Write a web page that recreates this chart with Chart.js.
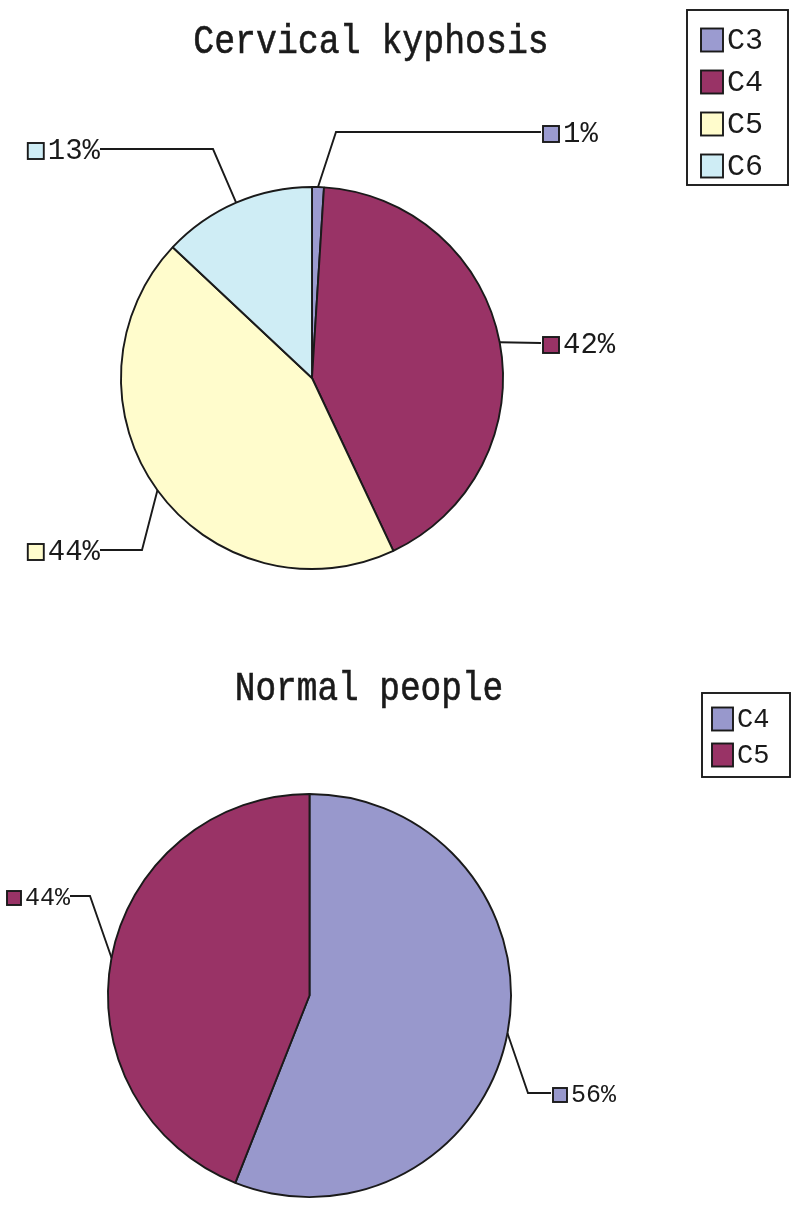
<!DOCTYPE html>
<html>
<head>
<meta charset="utf-8">
<script src="https://cdn.jsdelivr.net/npm/chart.js@4.4.1/dist/chart.umd.min.js"></script>
<style>
  html,body{margin:0;padding:0;background:#fff;}
  #wrap{position:relative;width:800px;height:1206px;}
  canvas{position:absolute;left:0;}
</style>
</head>
<body>
<div id="wrap">
  <canvas id="c1" width="800" height="603" style="top:0"></canvas>
  <canvas id="c2" width="800" height="603" style="top:603px"></canvas>
</div>
<script>
// ---- data ----
const topTitle = 'Cervical kyphosis';
const topCategories = ['C3', 'C4', 'C5', 'C6'];
const topValues = [1, 42, 44, 13];

const bottomTitle = 'Normal people';
const bottomCategories = ['C4', 'C5'];
const bottomValues = [56, 44];

// ---- styles ----
const topColors = ['#9B9BD0', '#993366', '#FFFCCC', '#CFEDF5'];
const bottomColors = ['#9898CC', '#993366'];
const INK = '#1a1a1a';
const FONT = '"Liberation Mono", "DejaVu Sans Mono", monospace';

const decorPlugin = {
  id: 'decor',
  afterDraw(chart, args, o) {
    const ctx = chart.ctx;
    ctx.save();
    // title (tall, narrow glyphs like the original)
    ctx.save();
    ctx.fillStyle = INK;
    ctx.strokeStyle = INK;
    ctx.lineWidth = 0.6;
    ctx.font = o.titleSize + 'px ' + FONT;
    ctx.textAlign = 'center';
    ctx.textBaseline = 'alphabetic';
    ctx.translate(o.titleX, o.titleY);
    ctx.scale(o.titleScaleX, 1);
    ctx.fillText(o.title, 0, 0);
    ctx.strokeText(o.title, 0, 0);
    ctx.restore();

    // leader-line labels
    const ds = chart.data.datasets[0];
    const meta = chart.getDatasetMeta(0);
    ctx.lineWidth = 1.9;
    ctx.strokeStyle = INK;
    ctx.font = o.labelSize + 'px ' + FONT;
    ctx.textBaseline = 'middle';
    meta.data.forEach((arc, i) => {
      const p = arc.getProps(['x', 'y', 'startAngle', 'endAngle', 'outerRadius'], true);
      const mid = (p.startAngle + p.endAngle) / 2;
      const ax = p.x + Math.cos(mid) * p.outerRadius;
      const ay = p.y + Math.sin(mid) * p.outerRadius;
      const L = o.labels[i];
      ctx.beginPath();
      ctx.moveTo(ax, ay);
      if (L.elbow) ctx.lineTo(L.elbow[0], L.elbow[1]);
      ctx.lineTo(L.end[0], L.end[1]);
      ctx.stroke();
      const txt = ds.data[i] + '%';
      const s = o.labelSq;
      const cy = L.end[1] + 2;
      let sx, tx;
      ctx.fillStyle = INK;
      if (L.side === 'right') {
        sx = L.end[0] + 2;
        tx = sx + s + 4;
        ctx.textAlign = 'left';
        ctx.fillText(txt, tx, cy);
      } else {
        tx = L.end[0];
        ctx.textAlign = 'right';
        ctx.fillText(txt, tx, cy);
        const w = ctx.measureText(txt).width;
        sx = tx - w - 4 - s;
      }
      ctx.fillStyle = ds.backgroundColor[i];
      ctx.fillRect(sx, cy - s / 2, s, s);
      ctx.strokeRect(sx, cy - s / 2, s, s);
    });

    // legend
    const g = o.legend;
    ctx.lineWidth = 1.9;
    ctx.strokeStyle = INK;
    ctx.strokeRect(g.x, g.y, g.w, g.h);
    ctx.font = g.size + 'px ' + FONT;
    ctx.textAlign = 'left';
    ctx.textBaseline = 'middle';
    chart.data.labels.forEach((lab, i) => {
      const cy = g.row0 + i * g.gap;
      ctx.fillStyle = ds.backgroundColor[i];
      ctx.fillRect(g.sqX, cy - g.sqH / 2, g.sqW, g.sqH);
      ctx.strokeRect(g.sqX, cy - g.sqH / 2, g.sqW, g.sqH);
      ctx.fillStyle = INK;
      ctx.fillText(lab, g.sqX + g.sqW + 4, cy + 1);
    });
    ctx.restore();
  }
};

function makePie(id, labels, values, colors, padding, decor) {
  return new Chart(document.getElementById(id), {
    type: 'pie',
    data: {
      labels: labels,
      datasets: [{
        data: values,
        backgroundColor: colors,
        borderColor: INK,
        borderWidth: 1.9
      }]
    },
    options: {
      responsive: false,
      animation: false,
      devicePixelRatio: 1,
      layout: { padding: padding },
      plugins: {
        legend: { display: false },
        title: { display: false },
        tooltip: { enabled: false },
        decor: decor
      }
    },
    plugins: [decorPlugin]
  });
}

makePie('c1', topCategories, topValues, topColors,
  { left: 120, right: 296, top: 186, bottom: 33 },
  {
    title: topTitle, titleSize: 41, titleScaleX: 0.85, titleX: 371, titleY: 53,
    labelSize: 29, labelSq: 16,
    labels: [
      { elbow: [336, 132], end: [541, 132], side: 'right' },
      { elbow: null, end: [541, 343], side: 'right' },
      { elbow: [142, 550], end: [100, 550], side: 'left' },
      { elbow: [213, 149], end: [100, 149], side: 'left' }
    ],
    legend: { x: 687, y: 10, w: 101, h: 175, sqX: 701, sqW: 22, sqH: 23, row0: 40, gap: 42, size: 30 }
  });

makePie('c2', bottomCategories, bottomValues, bottomColors,
  { left: 107, right: 288, top: 190, bottom: 8 },
  {
    title: bottomTitle, titleSize: 40, titleScaleX: 0.86, titleX: 369, titleY: 97,
    labelSize: 25, labelSq: 14,
    labels: [
      { elbow: [528, 490], end: [551, 490], side: 'right' },
      { elbow: [90, 293], end: [70, 293], side: 'left' }
    ],
    legend: { x: 702, y: 90, w: 88, h: 84, sqX: 712, sqW: 21, sqH: 23, row0: 116, gap: 36, size: 27 }
  });
</script>
</body>
</html>
